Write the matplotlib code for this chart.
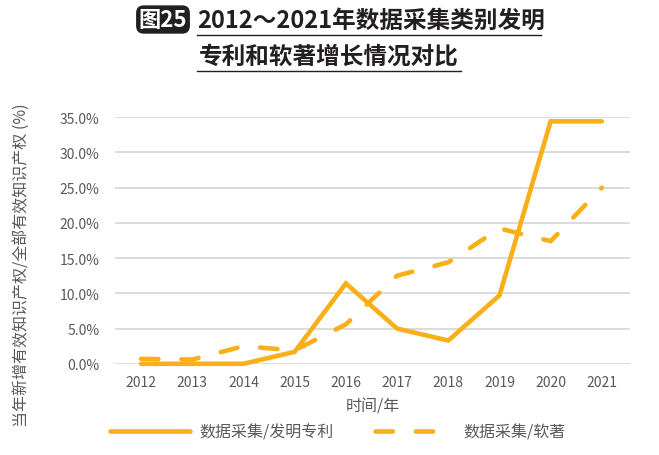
import matplotlib
matplotlib.use("Agg")
from matplotlib import pyplot as plt
from matplotlib.lines import Line2D

plt.rcParams["font.family"] = ["Noto Sans CJK SC", "DejaVu Sans"]
plt.rcParams["lines.scale_dashes"] = False

years = [2012, 2013, 2014, 2015, 2016, 2017, 2018, 2019, 2020, 2021]
patent = [0.0, 0.0, 0.0, 1.7, 11.4, 5.0, 3.3, 9.7, 34.4, 34.4]
software = [0.7, 0.6, 2.5, 1.9, 5.6, 12.5, 14.4, 19.2, 17.4, 25.0]
yticks = [0, 5, 10, 15, 20, 25, 30, 35]

orange = "#F9AF18"
gray = "#595959"
grid_gray = "#D9D9D9"

fig = plt.figure(figsize=(6.59, 4.56), dpi=100)
ax = fig.add_axes([0.1745, 0.2, 0.7815, 0.541])

ax.plot(years, patent, color=orange, lw=3.3, solid_capstyle="round",
        solid_joinstyle="miter", clip_on=False, label="数据采集/发明专利", zorder=3)
ax.plot(years, software, color=orange, lw=3.3, dashes=(12.5, 16.5),
        dash_capstyle="round", clip_on=False, label="数据采集/软著", zorder=3)

ax.set_xlim(2011.49, 2021.55)
ax.set_ylim(0, 35)
ax.set_xticks(years)
ax.set_xticklabels([str(y) for y in years])
ax.set_yticks(yticks)
ax.set_yticklabels([f"{v:.1f}%" for v in yticks])
ax.tick_params(axis="both", length=0, colors=gray, labelsize=10)
ax.tick_params(axis="y", pad=11)
ax.tick_params(axis="x", pad=8)
ax.yaxis.grid(True, color=grid_gray, lw=1.3)
ax.set_axisbelow(True)
for s in ax.spines.values():
    s.set_visible(False)

ax.set_xlabel("时间/年", color=gray, fontsize=11.5, fontweight="light", labelpad=6)
fig.text(22 / 659, 0.418, "当年新增有效知识产权/全部有效知识产权 (%)", rotation=90,
         ha="center", va="center", color=gray, fontsize=11.5, fontweight="light")

fig.legend(loc="center", bbox_to_anchor=(0.513, 0.05), ncol=2, frameon=False,
           handlelength=5.0, handletextpad=0.55, columnspacing=2.6,
           prop={"size": 11.5, "weight": "light"}, labelcolor=gray)

# title
fig.text(163 / 659, 0.955, "图25", ha="center", va="center", color="white",
         fontsize=16, fontweight="bold",
         bbox=dict(boxstyle="round,pad=0.12,rounding_size=0.35", fc="#231F20", ec="none"))
fig.text(197 / 659, 0.955, "2012～2021年数据采集类别发明", ha="left", va="center",
         color="#231F20", fontsize=17, fontweight="bold")
fig.text(329 / 659, 0.875, "专利和软著增长情况对比", ha="center", va="center",
         color="#231F20", fontsize=17, fontweight="bold")
fig.add_artist(Line2D([197 / 659, 541 / 659], [0.921, 0.921], color="#231F20", lw=1.0))
fig.add_artist(Line2D([197 / 659, 461 / 659], [0.842, 0.842], color="#231F20", lw=1.0))

fig.savefig("out.png", dpi=100)
